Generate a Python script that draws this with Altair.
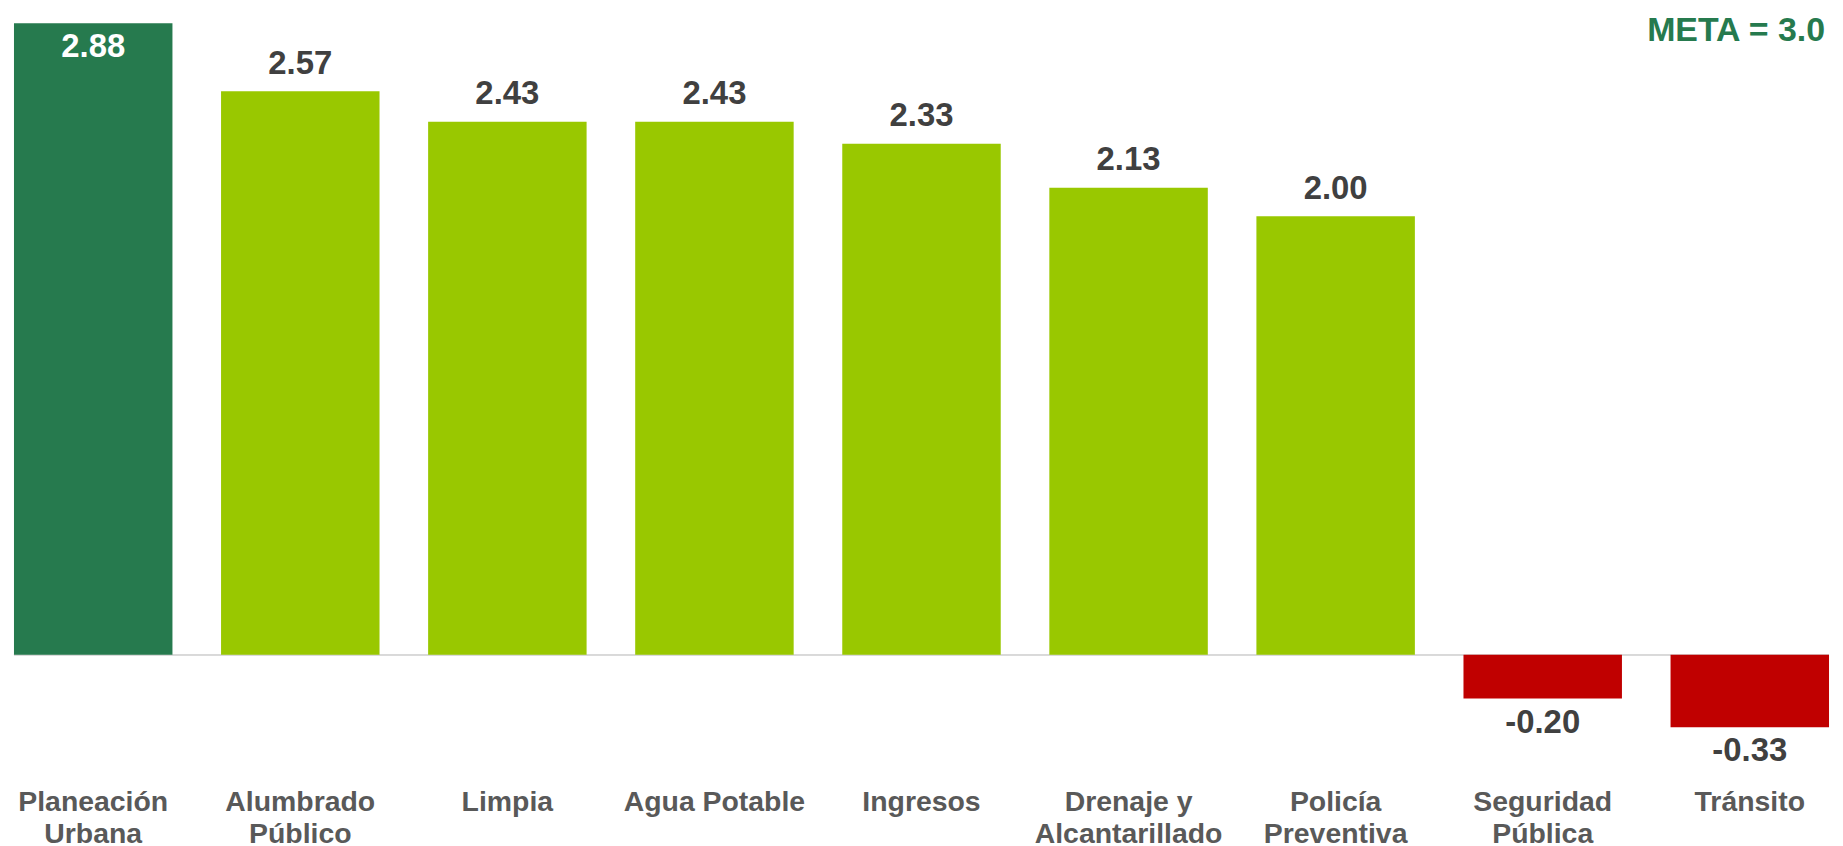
import altair as alt
import pandas as pd

categories = [
    "Planeación Urbana",
    "Alumbrado Público",
    "Limpia",
    "Agua Potable",
    "Ingresos",
    "Drenaje y Alcantarillado",
    "Policía Preventiva",
    "Seguridad Pública",
    "Tránsito",
]
label_line1 = ["Planeación", "Alumbrado", "Limpia", "Agua Potable", "Ingresos",
               "Drenaje y", "Policía", "Seguridad", "Tránsito"]
label_line2 = ["Urbana", "Público", "", "", "", "Alcantarillado", "Preventiva", "Pública", ""]
values = [2.88, 2.57, 2.43, 2.43, 2.33, 2.13, 2.00, -0.20, -0.33]
highlight = "Planeación Urbana"
meta_text = "META = 3.0"

Y_MIN, Y_MAX = -0.5386, 2.902

df = pd.DataFrame({
    "category": categories,
    "value": values,
    "line1": label_line1,
    "line2": label_line2,
})
df["label"] = df["value"].map(lambda v: f"{v:.2f}")
df["group"] = [
    "neg" if v < 0 else ("top" if c == highlight else "pos")
    for c, v in zip(categories, values)
]
df["zero"] = 0.0
df["ymin"] = Y_MIN

df_pos = df[df["group"] == "pos"].reset_index(drop=True)
df_top = df[df["group"] == "top"].reset_index(drop=True)
df_neg = df[df["group"] == "neg"].reset_index(drop=True)
df_meta = pd.DataFrame({"category": [categories[-1]], "value": [Y_MAX], "meta": [meta_text]})

W, H = 1821, 757
FONT = "Liberation Sans"

xscale = alt.Scale(paddingInner=0.2347, paddingOuter=0)
yscale = alt.Scale(domain=[Y_MIN, Y_MAX], nice=False)


def xcat():
    return alt.X("category:N", sort=categories, scale=xscale, axis=None)


def yf(field):
    return alt.Y(f"{field}:Q", scale=yscale, axis=None)


zero_rule = alt.Chart(df).mark_rule(color="#D9D9D9", strokeWidth=1.5).encode(y=yf("zero"))

bars = alt.Chart(df).mark_bar().encode(
    x=xcat(),
    y=yf("value"),
    color=alt.Color(
        "group:N",
        scale=alt.Scale(domain=["top", "pos", "neg"], range=["#267A4E", "#99C800", "#C00000"]),
        legend=None,
    ),
)

text_common = dict(font=FONT, fontSize=33, fontWeight="bold", baseline="alphabetic", align="center")

labels_out = alt.Chart(df_pos).mark_text(dy=-17.5, color="#404040", **text_common).encode(
    x=xcat(), y=yf("value"), text="label:N"
)
labels_in = alt.Chart(df_top).mark_text(dy=34, color="#FFFFFF", **text_common).encode(
    x=xcat(), y=yf("value"), text="label:N"
)
labels_neg = alt.Chart(df_neg).mark_text(dy=34, color="#404040", **text_common).encode(
    x=xcat(), y=yf("value"), text="label:N"
)

cat_common = dict(font=FONT, fontSize=28.5, fontWeight="bold", color="#595959",
                  align="center", baseline="alphabetic")
cat1 = alt.Chart(df).mark_text(dy=38, **cat_common).encode(x=xcat(), y=yf("ymin"), text="line1:N")
cat2 = alt.Chart(df).mark_text(dy=70, **cat_common).encode(x=xcat(), y=yf("ymin"), text="line2:N")

meta = alt.Chart(df_meta).mark_text(
    font=FONT, fontSize=34, fontWeight="bold", color="#267A4E",
    align="right", baseline="alphabetic", dx=75.5, dy=23,
).encode(x=xcat(), y=yf("value"), text="meta:N")

chart = alt.layer(zero_rule, bars, labels_out, labels_in, labels_neg, cat1, cat2, meta).properties(
    width=W, height=H
).configure_view(strokeWidth=0)

chart.save("out.html", embed_options={"renderer": "svg", "actions": False})
